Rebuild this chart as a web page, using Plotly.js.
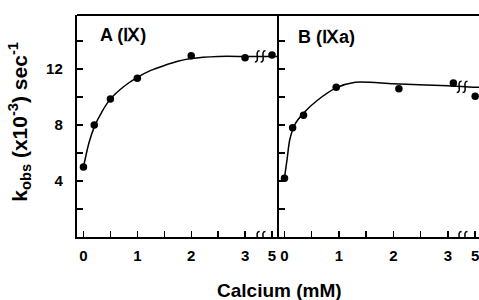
<!DOCTYPE html>
<html><head><meta charset="utf-8">
<script src="https://cdn.plot.ly/plotly-3.0.1.min.js"></script>
<style>html,body{margin:0;padding:0;background:#fff}</style>
</head><body><div id="chart" style="width:479px;height:300px"></div>
<script>
// Measured data (calcium mM, kobs x10^-3 sec^-1)
const caA = [0, 0.2, 0.5, 1, 2, 3, 5];
const kA  = [5.0, 8.0, 9.85, 11.35, 12.95, 12.8, 13.0];
const caB = [0, 0.15, 0.35, 0.95, 2.1, 3.1, 5];
const kB  = [4.2, 7.8, 8.7, 10.7, 10.6, 11.0, 10.05];
// Fitted curves
const fitA_ca = [0, 0.1, 0.2, 0.35, 0.5, 0.75, 1, 1.25, 1.5, 1.75, 2, 2.5, 3, 3.25, 5, 6];
const fitA_k  = [5.0, 6.7, 7.85, 9.0, 9.85, 10.75, 11.4, 11.9, 12.25, 12.55, 12.75, 12.9, 12.9, 12.9, 12.9, 12.9];
const fitB_ca = [0, 0.05, 0.1, 0.2, 0.35, 0.6, 0.95, 1.3, 2, 3, 3.25, 5, 6];
const fitB_k  = [4.2, 5.6, 7.0, 8.1, 8.85, 9.75, 10.65, 11.05, 10.95, 10.8, 10.75, 10.7, 10.7];
// Axis ticks
const xTickCa = [0, 0.5, 1, 1.5, 2, 2.5, 3, 5];
const xTickText = ["0", "", "1", "", "2", "", "3", "5"];
const yTickVals = [2, 4, 6, 8, 10, 12, 14];
const yTickText = ["", "4", "", "8", "", "12", ""];

// broken axis: 0..3.25 linear, then 5 placed just after the break
function pos(c){ return c <= 3.3 ? c : 3.5 + (c - 5) * 0.14; }
const P = a => a.map(pos);

const F = "Liberation Sans, Arial, sans-serif";
const lineStyle = {color:'#000', width:1.5, shape:'spline', smoothing:0.8};
const mk = {color:'#000', size:7.5};

const traces = [
  {x:P(fitA_ca), y:fitA_k, mode:'lines', line:lineStyle, xaxis:'x', yaxis:'y', hoverinfo:'skip'},
  {x:P(caA), y:kA, mode:'markers', marker:mk, xaxis:'x', yaxis:'y'},
  {x:P(fitB_ca), y:fitB_k, mode:'lines', line:lineStyle, xaxis:'x2', yaxis:'y2', hoverinfo:'skip'},
  {x:P(caB), y:kB, mode:'markers', marker:mk, xaxis:'x2', yaxis:'y2'}
];

const xCommon = {
  tickvals:P(xTickCa), ticktext:xTickText, ticks:'inside', ticklen:6, tickwidth:1.4, tickcolor:'#000',
  showline:true, linewidth:2.2, linecolor:'#000', showgrid:false, zeroline:false,
  tickfont:{family:F, size:15, color:'#000', weight:700}, ticklabelstandoff:4,
  ticklabeloverflow:'allow', fixedrange:true
};
const yCommon = {
  range:[0, 15.86], tickvals:yTickVals, ticktext:yTickText, ticks:'inside', ticklen:6, tickwidth:1.4, tickcolor:'#000',
  showline:true, linewidth:2.2, linecolor:'#000', showgrid:false, zeroline:false,
  tickfont:{family:F, size:15, color:'#000', weight:700}, ticklabelstandoff:9, fixedrange:true
};

function squiggle(xref, yref, xc, yc, dx, dy){
  // two small "ʃʃ" break marks
  const s = [];
  [-dx*0.6, dx*0.6].forEach(o=>{
    const x = xc + o;
    s.push({type:'path', xref:xref, yref:yref,
      path:`M ${x-dx*0.5},${yc-dy} C ${x+dx*0.7},${yc-dy} ${x-dx*0.7},${yc+dy} ${x+dx*0.5},${yc+dy}`,
      line:{color:'#000', width:1.5}});
  });
  return s;
}

const shapes = [
  {type:'line', xref:'paper', yref:'paper', x0:0, x1:1, y0:1, y1:1, line:{color:'#000', width:2.2}},
  ...squiggle('x','y', 3.28, 0, 0.09, 0.4),
  ...squiggle('x2','y2', 3.26, 0, 0.09, 0.4),
  ...squiggle('x','y', 3.28, 12.9, 0.09, 0.4),
  ...squiggle('x2','y2', 3.26, 10.72, 0.09, 0.4)
];

const layout = {
  width:479, height:300, margin:{l:77, r:0, t:15, b:63},
  paper_bgcolor:'#fff', plot_bgcolor:'#fff', showlegend:false,
  xaxis:Object.assign({}, xCommon, {domain:[0, 0.5025], range:[-0.12, 3.63], anchor:'y'}),
  yaxis:Object.assign({}, yCommon, {anchor:'x'}),
  xaxis2:Object.assign({}, xCommon, {domain:[0.5025, 1], range:[-0.1, 3.57], anchor:'y2'}),
  yaxis2:Object.assign({}, yCommon, {anchor:'x2', showticklabels:false}),
  shapes:shapes,
  annotations:[
    {xref:'paper', yref:'paper', x:0.052, y:0.91, xanchor:'left', yanchor:'middle', showarrow:false,
     text:'A (Ⅸ)', font:{family:F, size:18, color:'#000', weight:700}},
    {xref:'paper', yref:'paper', x:0.545, y:0.90, xanchor:'left', yanchor:'middle', showarrow:false,
     text:'B (Ⅸa)', font:{family:F, size:18, color:'#000', weight:700}},
    {xref:'paper', yref:'paper', x:0.5025, y:-0.239, xanchor:'center', yanchor:'middle', showarrow:false,
     text:'Calcium (mM)', font:{family:F, size:19, color:'#000', weight:700}},
    {xref:'paper', yref:'paper', x:-0.145, y:0.518, xanchor:'center', yanchor:'middle', showarrow:false, textangle:-90,
     text:'k<sub>obs</sub> (x10<sup>-3</sup>) sec<sup>-1</sup>', font:{family:F, size:21, color:'#000', weight:700}}
  ]
};

Plotly.newPlot('chart', traces, layout, {displayModeBar:false, staticPlot:true});
</script></body></html>
